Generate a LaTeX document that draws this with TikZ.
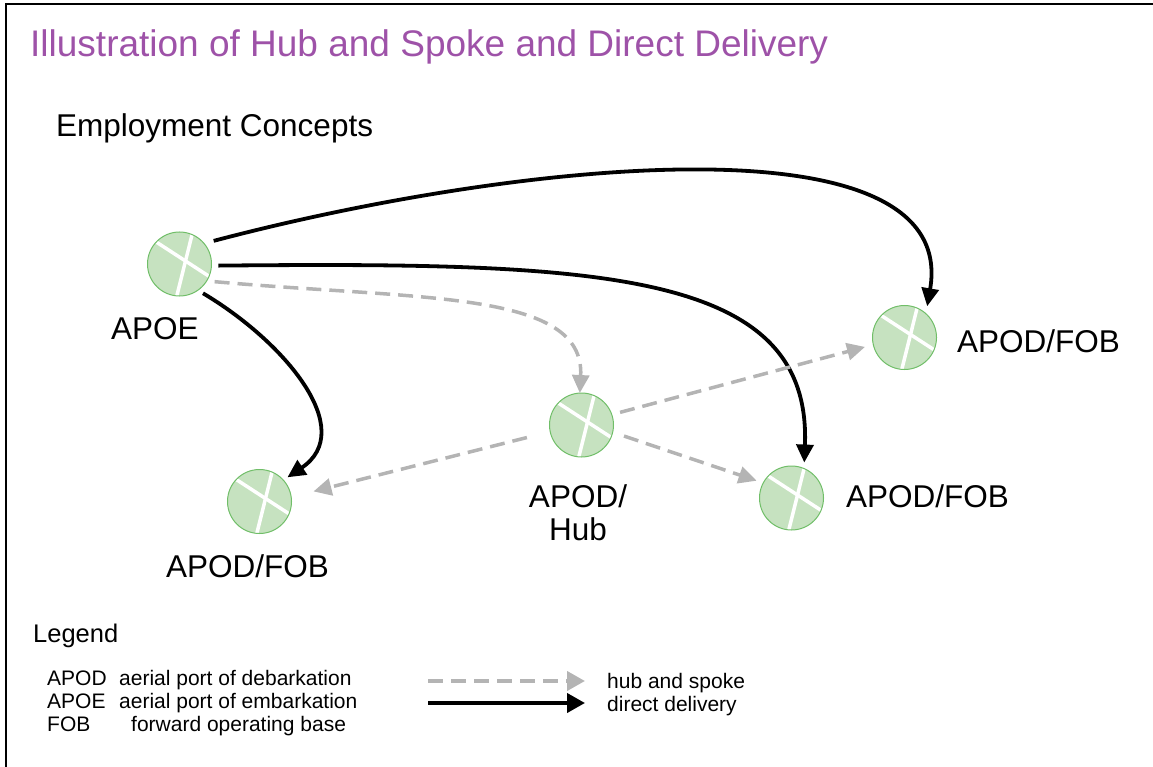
\documentclass[tikz,border=0pt]{standalone}
\usepackage{fontspec}
\setmainfont{Liberation Sans}
\usetikzlibrary{arrows.meta,positioning}

\definecolor{portfill}{RGB}{198,226,192}
\definecolor{portline}{RGB}{112,190,104}
\definecolor{spokegray}{RGB}{180,180,180}
\definecolor{titlepurple}{RGB}{158,82,168}

\newcommand{\portcross}{
\draw [white,line width=3.5pt] ([shift={(6pt,3pt)}]path picture bounding box.center) +(147:45pt) -- +(-33:45pt);
\draw [white,line width=3.5pt] ([shift={(6pt,3pt)}]path picture bounding box.center) +(76:45pt) -- +(256:45pt);
}

\begin{document}
\begin{tikzpicture}[x=1pt,y=-1pt,
  port/.style={circle,draw=portline,fill=portfill,line width=1pt,minimum size=64pt,inner sep=0pt,outer sep=0pt,path picture={\portcross}},
  lbl/.style={anchor=base west,inner sep=0pt,font=\fontsize{31.5}{33}\selectfont},
  legtext/.style={anchor=base west,inner sep=0pt,font=\fontsize{21}{24}\selectfont},
  direct/.style={line width=3.8pt,-{Triangle[length=18pt,width=17pt]}},
  spoke/.style={spokegray,line width=3.5pt,dash pattern=on 15pt off 8pt,-{Triangle[length=18pt,width=17pt]}}]
\useasboundingbox (0,0) rectangle (1153,767);
\draw [line width=2.5pt] (6,767) -- (6,4) -- (1153,4);

\node [anchor=base west,inner sep=0pt,text=titlepurple,font=\fontsize{37}{44}\selectfont] (title) at (30,57) {Illustration of Hub and Spoke and Direct Delivery};
\node [lbl] (concepts) at (56,137) {Employment Concepts};

% ports
\path (179.5,264) coordinate (Pe);
\path (581.5,425) coordinate (Ph);
\path (259.5,501.5) coordinate (Pw);
\path (791.5,498) coordinate (Pse);
\path (904.5,337.5) coordinate (Pne);
\node [port] (apoe) at (Pe) {};
\node [port] (hub) at (Ph) {};
\node [port] (fobw) at (Pw) {};
\node [port] (fobse) at (Pse) {};
\node [port] (fobne) at (Pne) {};

\node [lbl] (lapoe) at (111,339) {APOE};
\node [lbl,anchor=base,align=center] (lhub) at (578,540) {APOD/\\Hub};
\node [lbl] (lfobw) at (166,577) {APOD/FOB};
\node [lbl] (lfobse) at (846,507) {APOD/FOB};
\node [lbl] (lfobne) at (957,352) {APOD/FOB};

% direct delivery
\draw [direct,shorten <=10pt,shorten >=7.6pt] (apoe.40) .. controls (520,160) and (960,115) .. (fobne.48);
\draw [direct,shorten <=7pt,shorten >=6pt] (apoe.-3) .. controls (600,262) and (812,270) .. (fobse.67);
\draw [direct,shorten <=6pt,shorten >=5pt] (apoe.-55) .. controls (285,342) and (358,430) .. (fobw.42);

% hub and spoke
\draw [spoke,shorten <=8pt] (apoe.-32) .. controls (420,300) and (585,290) .. (hub.93);
\draw [spoke,shorten <=24pt,shorten >=23pt] (hub.192) -- (fobw.8);
\draw [spoke,shorten <=12pt,shorten >=7pt] (hub.-13) -- (fobse.152);
\draw [spoke,shorten <=8.6pt,shorten >=8.6pt] (hub.19) -- (fobne.193);

% legend
\node [anchor=base west,inner sep=0pt,font=\fontsize{25.5}{30}\selectfont] (legend) at (33,642) {Legend};
\node [legtext] (kapod) at (47,685) {APOD};
\node [legtext] (tapod) at (119,685) {aerial port of debarkation};
\node [legtext] (kapoe) at (47,708) {APOE};
\node [legtext] (tapoe) at (119,708) {aerial port of embarkation};
\node [legtext] (kfob) at (47,731) {FOB};
\node [legtext] (tfob) at (131,731) {forward operating base};
\node [legtext] (thub) at (607,688) {hub and spoke};
\node [legtext] (tdirect) at (607,711) {direct delivery};
\path (428,681) coordinate (Lh);
\path (428,703) coordinate (Ld);
\draw [spoke,line width=4pt,-{Triangle[length=18pt,width=19pt]},shorten >=22pt] (Lh) -- (Lh -| thub.west);
\draw [direct,line width=4pt,-{Triangle[length=18pt,width=19pt]},shorten >=22pt] (Ld) -- (Ld -| tdirect.west);
\end{tikzpicture}
\end{document}
